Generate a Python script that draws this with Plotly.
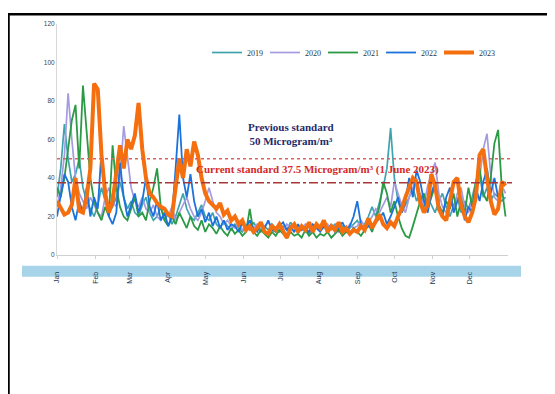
import pandas as pd
import plotly.graph_objects as go

# ---- data (one point every 3 days) ----
start_date = "2023-01-01"

pm_2019 = [30, 45, 68, 50, 38, 42, 50, 35, 28, 24, 20, 26, 35, 28, 22, 25, 30, 38, 30, 24,
           28, 22, 20, 26, 30, 22, 18, 20, 25, 18, 22, 16, 20, 26, 32, 24, 20, 18, 22, 26,
           20, 18, 22, 16, 14, 18, 15, 13, 16, 14, 12, 15, 13, 17, 14, 12, 15, 13, 16, 14,
           12, 15, 13, 17, 14, 12, 15, 13, 11, 14, 16, 13, 15, 12, 14, 16, 13, 15, 12, 14,
           16, 18, 14, 16, 20, 25, 20, 28, 35, 45, 66, 40, 28, 22, 26, 30, 35, 28, 32, 25,
           30, 26, 22, 28, 32, 25, 20, 26, 30, 22, 28, 24, 30, 38, 42, 30, 35, 28, 32, 30,
           28, 30]
pm_2020 = [25, 35, 52, 84, 60, 40, 32, 28, 24, 30, 26, 22, 20, 30, 35, 28, 25, 40, 67, 50,
           35, 28, 25, 30, 24, 22, 26, 20, 18, 22, 20, 25, 18, 22, 26, 30, 24, 20, 18, 22,
           28, 35, 28, 22, 20, 16, 18, 15, 14, 16, 13, 15, 18, 14, 16, 13, 15, 17, 14, 12,
           15, 13, 16, 14, 12, 15, 13, 16, 14, 12, 15, 13, 14, 16, 13, 15, 12, 14, 13, 16,
           14, 15, 18, 15, 17, 20, 24, 22, 26, 30, 25, 38, 32, 26, 22, 30, 35, 40, 30, 26,
           36, 42, 48, 32, 25, 22, 28, 24, 32, 35, 25, 22, 28, 32, 40, 55, 63, 42, 30, 28,
           36, 32]
pm_2021 = [35, 30, 40, 55, 70, 78, 45, 88, 62, 40, 28, 22, 18, 25, 20, 57, 35, 25, 20, 18,
           24, 30, 20, 22, 18, 28, 35, 45, 25, 18, 15, 20, 16, 22, 18, 14, 20, 15, 13, 18,
           12, 16, 14, 11, 15, 12, 10, 14, 11, 13, 10, 12, 24, 12, 10, 13, 11, 9, 12, 10,
           13, 11, 9, 12, 10, 11, 9, 13, 10, 12, 9, 11, 10, 12, 9, 11, 13, 10, 12, 11,
           14, 12, 10, 13, 16, 12, 18, 25, 38, 32, 22, 28, 20, 14, 10, 9, 15, 22, 28, 32,
           24, 30, 36, 26, 22, 28, 24, 32, 20, 28, 22, 35, 25, 38, 45, 32, 28, 40, 58, 65,
           35, 20]
pm_2022 = [20, 32, 42, 38, 25, 18, 28, 22, 35, 20, 30, 24, 54, 35, 20, 16, 22, 48, 30, 20,
           26, 32, 22, 28, 40, 25, 20, 28, 18, 22, 15, 20, 45, 73, 40, 30, 42, 28, 20, 24,
           17, 22, 15, 20, 14, 18, 13, 16, 15, 12, 17, 14, 18, 13, 12, 16, 14, 18, 13, 12,
           15, 17, 13, 15, 12, 16, 13, 14, 12, 16, 14, 12, 15, 13, 16, 12, 14, 17, 13, 15,
           20, 28, 16, 13, 15, 14, 17, 19, 22, 16, 20, 25, 30, 22, 28, 40, 30, 44, 38, 28,
           22, 32, 38, 25, 20, 30, 35, 22, 28, 30, 18, 25, 22, 35, 28, 38, 45, 32, 40, 30,
           35, 38]
pm_2023 = [28, 24, 21, 22, 26, 40, 23, 22, 30, 45, 89, 86, 52, 32, 22, 28, 42, 57, 45, 60,
           55, 62, 79, 55, 40, 32, 30, 27, 25, 24, 21, 20, 35, 50, 40, 55, 46, 59, 52, 40,
           32, 28, 26, 24, 27, 21, 23, 18, 20, 16, 18, 13, 15, 12, 14, 17, 12, 11, 15, 13,
           16, 12, 9, 14, 16, 12, 15, 13, 17, 12, 16, 14, 18, 12, 15, 13, 17, 12, 14, 11,
           13, 12, 15, 13, 19, 14, 18, 21, 16, 14, 17, 15, 20, 24, 30, 35, 40, 38, 27, 22,
           26, 42, 36, 24, 20, 18, 28, 38, 40, 26, 20, 17, 22, 30, 52, 55, 40, 28, 21, 24,
           38, 36]

series_names = ["2019", "2020", "2021", "2022", "2023"]
series_values = [pm_2019, pm_2020, pm_2021, pm_2022, pm_2023]
series_colors = ["#3fa3ad", "#a49be0", "#2b9a45", "#1c72dc", "#f56f0e"]
series_widths = [1.7, 1.7, 1.8, 1.8, 4.0]

month_ticks = pd.date_range(start_date, periods=12, freq="MS")
month_labels = ["Jan", "Feb", "Mar", "Apr", "May", "Jun",
                "Jul", "Aug", "Sep", "Oct", "Nov", "Dec"]
y_ticks = [0, 20, 40, 60, 80, 100, 120]

previous_standard = 50
current_standard = 37.5

fig = go.Figure()
for name, vals, col, w in zip(series_names, series_values, series_colors, series_widths):
    fig.add_trace(go.Scatter(x=pd.date_range(start_date, periods=len(vals), freq="3D"),
                             y=vals, name=name, mode="lines",
                             line=dict(color=col, width=w)))

# geometry: the page body adds an 8px offset, so figure px = page px - 8
OFF = 8
W, H = 555, 394
L, R, T, B = 57 - OFF, 508 - OFF, 20 - OFF, 255 - OFF
def px(xp):  # page x -> paper
    return (xp - OFF - L) / (R - L)
def py(yp):  # page y -> paper
    return (B - (yp - OFF)) / (B - T)

shapes = [
    dict(type="rect", xref="paper", yref="paper", x0=px(22), x1=px(521),
         y0=py(277), y1=py(266), fillcolor="#a8d4ea", line=dict(width=0), layer="below"),
    dict(type="line", xref="paper", yref="y", x0=0, x1=px(512), y0=previous_standard,
         y1=previous_standard, line=dict(color="#e06060", width=1.5, dash="dot")),
    dict(type="line", xref="paper", yref="y", x0=0, x1=px(512), y0=current_standard,
         y1=current_standard, line=dict(color="#a83838", width=1.5, dash="dashdot")),
    dict(type="line", xref="paper", yref="paper", x0=px(8), x1=px(570), y0=py(10), y1=py(10),
         line=dict(color="black", width=2.5)),
    dict(type="line", xref="paper", yref="paper", x0=px(8.5), x1=px(8.5), y0=py(9),
         y1=py(410), line=dict(color="black", width=2.5)),
]

annotations = [
    dict(text="<b>Previous standard<br>50 Microgram/m³</b>", xref="paper", yref="paper",
         x=px(291), y=py(132), showarrow=False,
         font=dict(family="Liberation Serif", size=11, color="#1e2b6b")),
    dict(text="<b>Current standard 37.5 Microgram/m³ (1 June 2023)</b>", xref="paper",
         yref="paper", x=px(317), y=py(168), showarrow=False,
         font=dict(family="Liberation Serif", size=11, color="#d42a2a")),
]

fig.update_layout(
    width=W, height=H,
    margin=dict(l=L, r=W - R, t=T, b=H - B, pad=0),
    paper_bgcolor="white", plot_bgcolor="white",
    showlegend=True,
    legend=dict(orientation="h", x=px(207), y=py(49), xanchor="left", yanchor="middle",
                font=dict(family="Liberation Serif", size=8, color="#333"),
                bgcolor="rgba(0,0,0,0)", itemwidth=30, entrywidth=13,
                tracegroupgap=0),
    shapes=shapes, annotations=annotations,
    xaxis=dict(range=[start_date, "2024-01-01"], tickvals=month_ticks, ticktext=month_labels,
               tickangle=-90, tickfont=dict(family="Liberation Sans", size=7, color="#1d3550"),
               showgrid=False, zeroline=False, showline=True, linecolor="#d0d0d0",
               linewidth=1, ticks="outside", ticklen=3, tickcolor="#d0d0d0",
               ticklabelstandoff=10),
    yaxis=dict(range=[0, 120], tickvals=y_ticks, showgrid=False, zeroline=False,
               showline=True, linecolor="#d8d8d8", linewidth=1, ticks="",
               tickfont=dict(family="Liberation Sans", size=6.5, color="#444")),
)

fig.write_html("out.html")
